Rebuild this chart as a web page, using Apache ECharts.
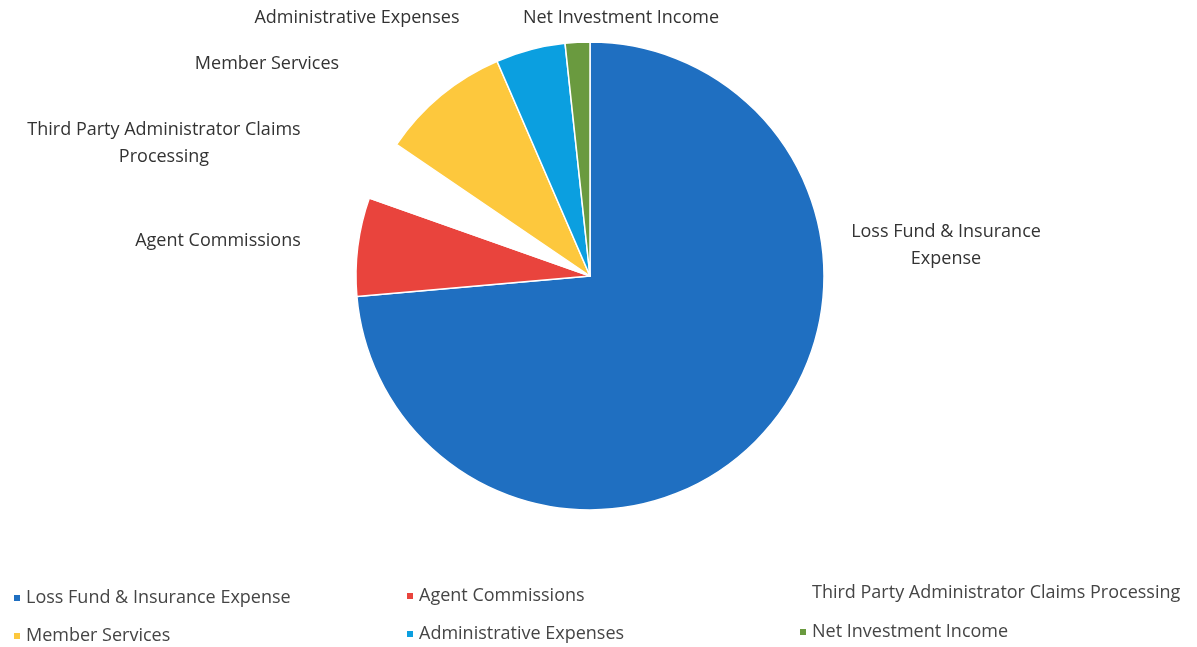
<!DOCTYPE html>
<html>
<head>
<meta charset="utf-8">
<script src="https://cdn.jsdelivr.net/npm/echarts@6/dist/echarts.min.js"></script>
<style>html,body{margin:0;padding:0;background:#fff;}#c{width:1197px;height:647px;}</style>
</head>
<body>
<div id="c"></div>
<script>
var categories = ["Loss Fund & Insurance Expense","Agent Commissions","Third Party Administrator Claims Processing","Member Services","Administrative Expenses","Net Investment Income"];
var values = [73.6, 6.8, 4.1, 9.0, 4.8, 1.7];
var sliceLabels = ["Loss Fund & Insurance\nExpense","Agent Commissions","Third Party Administrator Claims\nProcessing","Member Services","Administrative Expenses","Net Investment Income"];
var colors = ["#1f6fc1","#e9443d","#ffffff","#fdc83d","#0b9fe0","#6a9a3f"];

// label placements (text layout only)
var labelSpots = [[946,245],[218,241],[164,143],[267,64],[357,18],[621,18]];
// legend item placements [left, top]
var legendSpots = [[7,584],[400,582],[793,579],[7,622],[400,620],[793,618]];

var chart = echarts.init(document.getElementById('c'));
var fontFam = '"Open Sans", Lato, sans-serif';
var legends = categories.map(function (n, i) {
  return {
    left: legendSpots[i][0], top: legendSpots[i][1],
    itemWidth: 8, itemHeight: 8, icon: 'rect', itemGap: 0,
    textStyle: {fontFamily: fontFam, fontSize: 18, color: '#454545'},
    selectedMode: false,
    data: [n]
  };
});
chart.setOption({
  animation: false,
  color: colors,
  legend: legends,
  series: [{
    type: 'pie',
    center: [590, 276],
    radius: 234,
    startAngle: 90,
    clockwise: true,
    avoidLabelOverlap: false,
    itemStyle: {borderColor: '#ffffff', borderWidth: 1.5},
    label: {
      show: true, position: 'outside',
      fontFamily: fontFam, fontSize: 18, color: '#333333', lineHeight: 27,
      align: 'center',
      formatter: function (p) { return sliceLabels[p.dataIndex]; }
    },
    labelLine: {show: false},
    labelLayout: function (p) {
      var s = labelSpots[p.dataIndex];
      return {x: s[0], y: s[1], align: 'center', verticalAlign: 'middle'};
    },
    data: categories.map(function (n, i) { return {name: n, value: values[i]}; })
  }]
});
</script>
</body>
</html>
